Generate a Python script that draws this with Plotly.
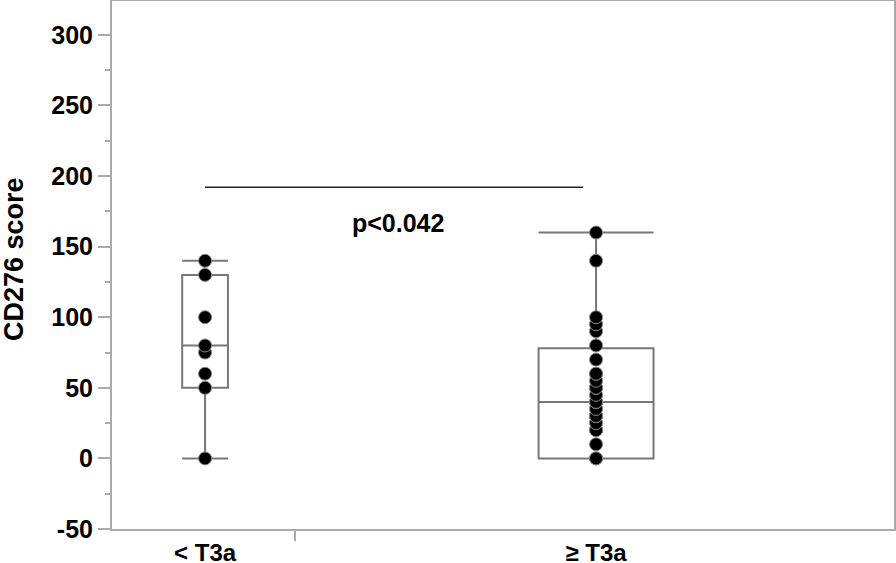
import plotly.graph_objects as go

# ---- data ----
categories = ["< T3a", "≥ T3a"]
group_low = [0, 50, 60, 75, 80, 100, 130, 140]
group_high = [0, 0, 10, 20, 20, 25, 30, 30, 30, 35, 40, 40, 40, 45, 50, 50, 50,
              55, 60, 60, 70, 80, 90, 95, 100, 140, 160]
q1_vals = [50, 0]
median_vals = [80, 40]
q3_vals = [130, 78]
lower_fence = [0, 0]
upper_fence = [140, 160]
p_text = "p<0.042"
sig_level = 192
y_ticks = [-50, 0, 50, 100, 150, 200, 250, 300]
y_tick_labels = ["-50", "0", "50", "100", "150", "200", "250", "300"]
y_title = "CD276 score"

FONT = "Liberation Sans, Arial, sans-serif"
AX = "#aaaaaa"
BOX = "#777777"

fig = go.Figure()
box_widths = [0.117, 0.294]
for i in range(2):
    fig.add_trace(go.Box(
        x=[i], q1=[q1_vals[i]], median=[median_vals[i]], q3=[q3_vals[i]],
        lowerfence=[lower_fence[i]], upperfence=[upper_fence[i]],
        width=box_widths[i], whiskerwidth=1, boxpoints=False,
        fillcolor="rgba(255,255,255,0)", line=dict(color=BOX, width=2),
        showlegend=False, hoverinfo="skip"))

for i, vals in enumerate([group_low, group_high]):
    fig.add_trace(go.Scatter(
        x=[i] * len(vals), y=vals, mode="markers",
        marker=dict(color="black", size=13, line=dict(color="#888888", width=1)),
        showlegend=False))

# significance line and label
fig.add_shape(type="line", x0=0, x1=0.967, y0=sig_level, y1=sig_level,
              line=dict(color="#222222", width=1.5))
fig.add_annotation(x=0.494, y=167, text=p_text, showarrow=False,
                   font=dict(family=FONT, size=25, color="black", weight="bold"))
# lone x-axis tick mark
fig.add_shape(type="line", x0=0.23, x1=0.23, y0=0, y1=-0.023, xref="x", yref="paper",
              line=dict(color=AX, width=2))
# y-axis title
fig.add_annotation(xref="paper", yref="paper", x=-0.1255, y=0.511, text=y_title,
                   textangle=-90, showarrow=False, xanchor="center", yanchor="middle",
                   font=dict(family=FONT, size=27, color="black", weight="bold"))

fig.update_layout(
    width=896, height=563,
    margin=dict(l=112, r=2, t=1, b=34),
    paper_bgcolor="white", plot_bgcolor="white",
    font=dict(family=FONT, color="black"),
    xaxis=dict(range=[-0.238, 1.762], tickvals=[0, 1], ticktext=categories,
               automargin=False,
               showgrid=False, zeroline=False, showline=True, linecolor=AX,
               linewidth=2, mirror=True, ticks="outside", ticklen=1,
               tickcolor="rgba(0,0,0,0)",
               tickfont=dict(family=FONT, size=24, color="black", weight="bold")),
    yaxis=dict(range=[-50, 324], tickvals=y_ticks, ticktext=y_tick_labels,
               automargin=False, showgrid=False, zeroline=False,
               showline=True, linecolor=AX, linewidth=2, mirror=True,
               ticks="outside", ticklen=12, tickwidth=2, tickcolor=AX,
               minor=dict(dtick=25, tick0=25, ticks="outside", ticklen=5,
                          tickwidth=2, tickcolor=AX),
               tickfont=dict(family=FONT, size=25, color="black", weight="bold")),
)

fig.write_html("out.html", config={"displayModeBar": False},
               post_script="document.body.style.margin='0px';document.body.style.overflow='hidden';")
